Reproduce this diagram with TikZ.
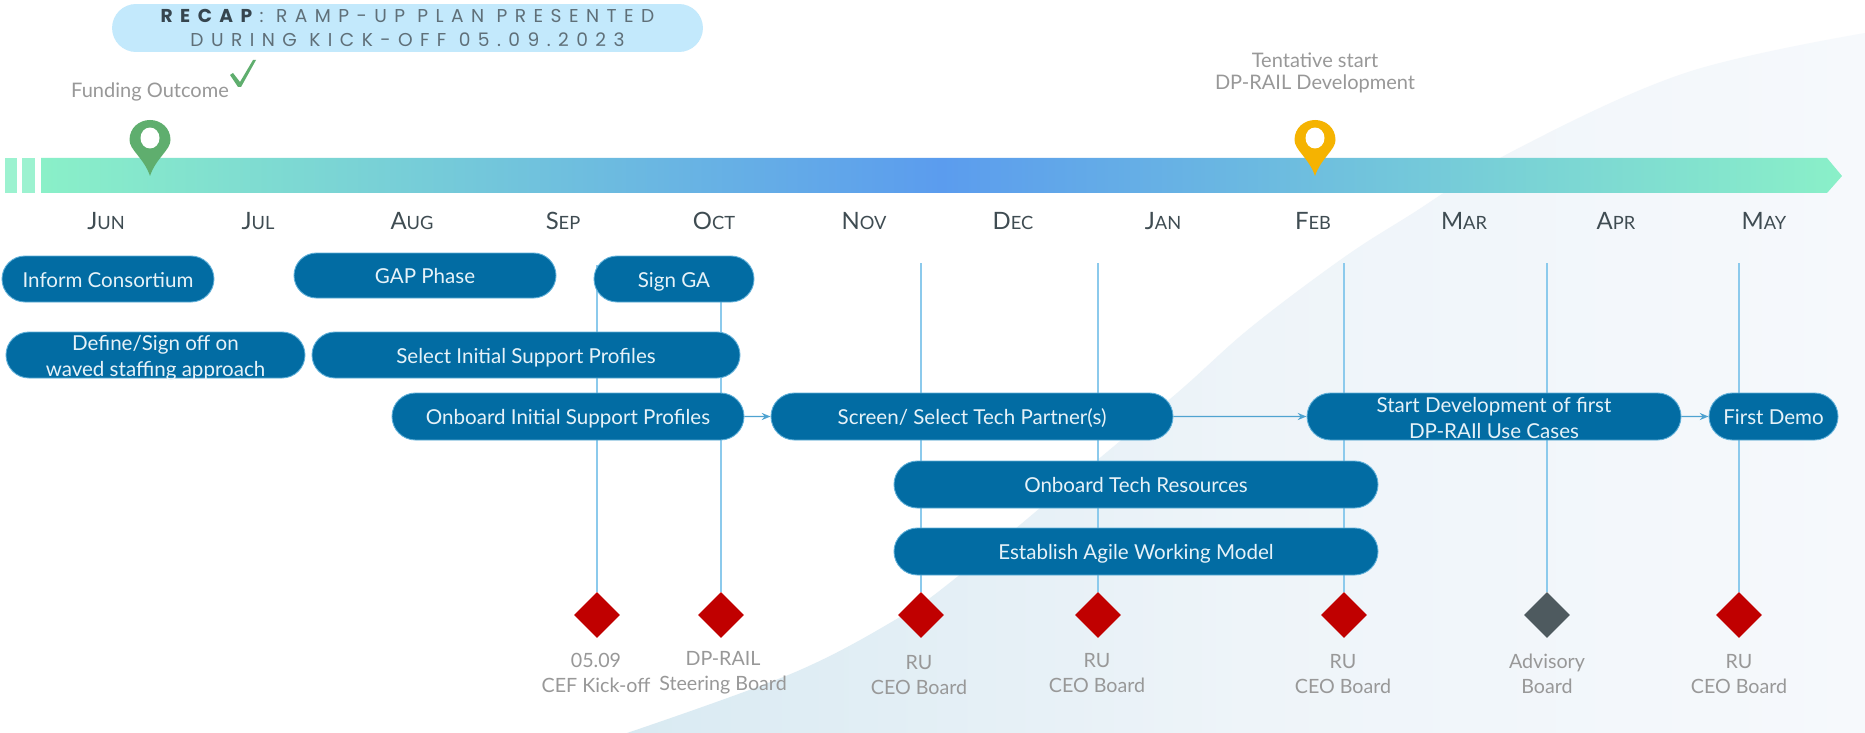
\documentclass[tikz,border=0pt]{standalone}
\usepackage{fontspec}
\setmainfont{Lato}
\newfontfamily\recapfont[LetterSpace=40]{Poppins}
\usetikzlibrary{shapes.misc,shapes.geometric,arrows.meta}
\definecolor{pillblue}{HTML}{026CA3}
\definecolor{pilledge}{HTML}{5FAFD8}
\definecolor{pilltext}{HTML}{E6F2F8}
\definecolor{linkblue}{HTML}{8CCAEC}
\definecolor{arrowblue}{HTML}{4FA3D1}
\definecolor{greylabel}{HTML}{989898}
\definecolor{monthtext}{HTML}{3F4C52}
\definecolor{recaptext}{HTML}{5F6F78}
\definecolor{recapbold}{HTML}{36454E}
\definecolor{redmark}{HTML}{C00000}
\definecolor{greymark}{HTML}{4E5A5F}
\definecolor{barend}{HTML}{8AF0C8}
\definecolor{barmid}{HTML}{5B9CEE}
\definecolor{recapfill}{HTML}{C3E9FC}
\definecolor{pingreen}{HTML}{5FAE6E}
\definecolor{pinyellow}{HTML}{F5B301}
\definecolor{swooshleft}{HTML}{D9EAF2}
\definecolor{swooshmid}{HTML}{EEF4F9}
\definecolor{swooshright}{HTML}{F6F9FC}
\newcommand{\fs}[2]{\fontsize{#1}{#2}\selectfont}
\newcommand{\twolines}[2]{\raisebox{-0.25pt}{\smash{\begin{tabular}{@{}c@{}}#1\\[0.6pt]#2\end{tabular}}}}
\newcommand{\mon}[2]{{\fs{13.6}{16}#1}{\fs{10.4}{12}#2}}
\tikzset{
  pill/.style={rounded rectangle,fill=pillblue,draw=pilledge,line width=0.5pt,inner sep=0pt,text=pilltext,font=\fs{11.7}{14.2}},
  link/.style={draw=linkblue,line width=1pt},
  flow/.style={draw=arrowblue,line width=0.8pt,-{Stealth[length=5pt,width=4pt]}},
  marker/.style={diamond,aspect=1,inner sep=0pt,minimum width=0.92cm,minimum height=0.92cm},
  grylabel/.style={text=greylabel,font=\fs{11.2}{14.2},align=center},
  toplabel/.style={text=greylabel,font=\fs{11.4}{12.6},align=center},
  month/.style={text=monthtext,inner sep=0pt},
  pics/mappin/.style={code={
    \fill[#1] (0,0) .. controls (-6,-18) and (-20.5,-26) .. (-20.5,-36)
      .. controls (-20.5,-48) and (-11,-56) .. (0,-56)
      .. controls (11,-56) and (20.5,-48) .. (20.5,-36)
      .. controls (20.5,-26) and (6,-18) .. (0,0) -- cycle;
    \fill[white] (0,-38) ellipse [x radius=0.19cm,y radius=0.21cm];
  }}
}
\newcommand{\pillnode}[6]{%
  \pgfmathsetmacro{\pcx}{(#2+#3)/2}\pgfmathsetmacro{\pcy}{(#4+#5)/2}%
  \pgfmathsetmacro{\pwd}{(#3-#2)*0.02}\pgfmathsetmacro{\phg}{(#5-#4)*0.02}%
  \node[pill,minimum width=\pwd cm,minimum height=\phg cm] (#1) at (\pcx,\pcy) {\raisebox{-4.75pt}[0pt][0pt]{#6}};}
\begin{document}
\begin{tikzpicture}[x=0.02cm,y=-0.02cm]
\useasboundingbox (0,0) rectangle (1865,733);
\fill[white] (0,0) rectangle (1865,733);
% background swoosh
\shade[left color=swooshleft,right color=swooshright,middle color=swooshmid]
  plot[smooth,tension=0.6] coordinates {(627,733) (793,673) (900,617) (957,577) (1065,487) (1177,393) (1250,328) (1343,258) (1410,215) (1515,150) (1685,73) (1865,33)}
  -- (1865,733) -- cycle;
% recap banner
\node[rounded rectangle,fill=recapfill,inner sep=0pt,minimum width=11.82cm,minimum height=0.96cm,align=center,text=recaptext,font={\recapfont\fs{10.6}{13.2}}] (recap) at (407.5,28)
  {\textcolor{recapbold}{\textbf{RECAP}}: RAMP-UP PLAN PRESENTED\\DURING KICK-OFF 05.09.2023};
% timeline
\fill[barend!85!white] (5,158) rectangle (17,193);
\fill[barend!85!white] (22,158) rectangle (35,193);
\shade[left color=barend,right color=barend,middle color=barmid] (41,158) -- (1827,158) -- (1842,176) -- (1827,193) -- (41,193) -- cycle;
\pic at (150,176) {mappin=pingreen};
\pic at (1315,176) {mappin=pinyellow};
\fill[pingreen] (230,75) -- (233,73) -- (240,82) -- (253,60) -- (256,60) -- (241,87) -- (238,87) -- cycle;
\node[toplabel] (funding) at (150,92) {Funding Outcome};
\node[toplabel] (tentative) at (1315,72.5) {Tentative start\\DP-RAIL Development};
% months
\node[month] (jun) at (106,221) {\mon{J}{UN}};
\node[month] (jul) at (258,221) {\mon{J}{UL}};
\node[month] (aug) at (412,221) {\mon{A}{UG}};
\node[month] (sep) at (563,221) {\mon{S}{EP}};
\node[month] (oct) at (714,221) {\mon{O}{CT}};
\node[month] (nov) at (864,221) {\mon{N}{OV}};
\node[month] (dec) at (1013,221) {\mon{D}{EC}};
\node[month] (jan) at (1163,221) {\mon{J}{AN}};
\node[month] (feb) at (1313,221) {\mon{F}{EB}};
\node[month] (mar) at (1464,221) {\mon{M}{AR}};
\node[month] (apr) at (1616,221) {\mon{A}{PR}};
\node[month] (may) at (1764,221) {\mon{M}{AY}};
% milestones
\node[marker,fill=redmark] (m1) at (597,615) {};
\node[marker,fill=redmark] (m2) at (721,615) {};
\node[marker,fill=redmark] (m3) at (921,615) {};
\node[marker,fill=redmark] (m4) at (1098,615) {};
\node[marker,fill=redmark] (m5) at (1344,615) {};
\node[marker,fill=greymark] (m6) at (1547,615) {};
\node[marker,fill=redmark] (m7) at (1739,615) {};
\coordinate (t1) at (597,265);
\coordinate (t2) at (721,280);
\coordinate (t3) at (921,263);
\coordinate (t4) at (1098,263);
\coordinate (t5) at (1344,263);
\coordinate (t6) at (1547,263);
\coordinate (t7) at (1739,263);
\foreach \i in {1,...,7} {\draw[link] (t\i) -- (m\i.north);}
% pills
\pillnode{inform}{2}{214}{256}{302}{Inform Consortium}
\pillnode{gap}{294}{556}{253}{298}{GAP Phase}
\pillnode{signga}{594}{754}{256}{302}{Sign GA}
\pillnode{define}{6}{305}{332}{378}{\twolines{Define/Sign off on}{waved staffing approach}}
\pillnode{select}{312}{740}{332}{378}{Select Initial Support Profiles}
\pillnode{onboardi}{392}{744}{393}{440}{Onboard Initial Support Profiles}
\pillnode{screen}{771}{1173}{393}{440}{Screen/ Select Tech Partner(s)}
\pillnode{startdev}{1307}{1681}{393}{440}{\twolines{Start Development of first}{DP-RAIl Use Cases}}
\pillnode{demo}{1709}{1838}{393}{440}{First Demo}
\pillnode{onboardt}{894}{1378}{461}{508}{Onboard Tech Resources}
\pillnode{agile}{894}{1378}{528}{575}{Establish Agile Working Model}
\draw[flow] (onboardi) -- (screen);
\draw[flow] (screen) -- (startdev);
\draw[flow] (startdev) -- (demo);
% milestone labels
\node[grylabel] (l1) at (596,673) {05.09\\CEF Kick-off};
\node[grylabel] (l2) at (723,673) {DP-RAIL\\Steering Board};
\node[grylabel] (l3) at (919,675) {RU\\CEO Board};
\node[grylabel] (l4) at (1097,673) {RU\\CEO Board};
\node[grylabel] (l5) at (1343,674) {RU\\CEO Board};
\node[grylabel] (l6) at (1547,674) {Advisory\\Board};
\node[grylabel] (l7) at (1739,674) {RU\\CEO Board};
\end{tikzpicture}
\end{document}
